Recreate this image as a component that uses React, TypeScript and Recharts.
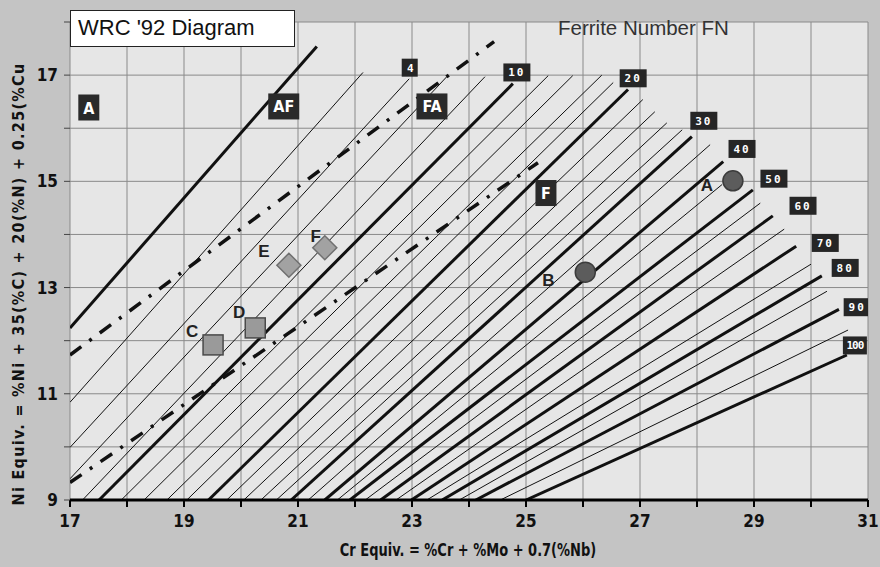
import { ComposedChart, Line, Scatter, XAxis, YAxis, CartesianGrid } from "recharts"

// iso-ferrite lines (start = bottom/left end, end = top/right end)
const fnValues = [0, 2, 4, 6, 8, 10, 12, 14, 16, 18, 20, 22, 24, 26, 28, 30, 35, 40, 45, 50, 55, 60, 65, 70, 75, 80, 85, 90, 95, 100]
const fnStartX = [17, 17, 17, 17, 17.22, 17.51, 17.9, 18.3, 18.7, 19.05, 19.43, 19.75, 20.05, 20.35, 20.62, 20.88, 21.18, 21.47, 21.69, 21.91, 22.18, 22.45, 22.72, 22.99, 23.26, 23.53, 23.83, 24.12, 24.55, 25.0]
const fnStartY = [12.24, 10.84, 9.99, 9.4, 9, 9, 9, 9, 9, 9, 9, 9, 9, 9, 9, 9, 9, 9, 9, 9, 9, 9, 9, 9, 9, 9, 9, 9, 9, 9]
const fnEndX = [21.33, 22.14, 22.95, 23.61, 24.28, 24.77, 25.39, 25.82, 26.33, 26.53, 26.79, 27.05, 27.26, 27.47, 27.74, 27.91, 28.23, 28.46, 28.44, 28.98, 29.11, 29.33, 29.53, 29.74, 30.0, 30.19, 30.28, 30.49, 30.65, 30.63]
const fnEndY = [17.54, 17.05, 16.93, 16.97, 16.97, 16.84, 16.99, 16.99, 17.0, 16.86, 16.73, 16.54, 16.31, 16.1, 15.97, 15.84, 15.69, 15.37, 14.94, 14.84, 14.59, 14.35, 14.1, 13.78, 13.44, 13.22, 12.93, 12.59, 12.2, 11.73]

// phase boundaries (dash-dot)
const afFaX = [17, 24.44]
const afFaY = [11.73, 17.63]
const faFX = [17, 25.21]
const faFY = [9.33, 15.35]

// labels on FN lines
const fnLabelText = ["4", "10", "20", "30", "40", "50", "60", "70", "80", "90", "100"]
const fnLabelX = [22.96, 24.84, 26.88, 28.12, 28.79, 29.35, 29.86, 30.25, 30.6, 30.81, 30.77]
const fnLabelY = [17.14, 17.05, 16.94, 16.14, 15.61, 15.05, 14.54, 13.84, 13.37, 12.63, 11.91]

// phase region labels
const regionNames = ["A", "AF", "FA", "F"]
const regionX = [17.33, 20.75, 23.35, 25.35]
const regionY = [16.39, 16.41, 16.41, 14.78]

// measured points
const pointNames = ["A", "B", "C", "D", "E", "F"]
const pointX = [28.63, 26.04, 19.51, 20.25, 20.84, 21.47]
const pointY = [15.01, 13.29, 11.92, 12.24, 13.42, 13.75]
const pointKind = ["circle", "circle", "square", "square", "diamond", "diamond"]

const xTicks = [17, 18, 19, 20, 21, 22, 23, 24, 25, 26, 27, 28, 29, 30, 31]
const yTicks = [9, 10, 11, 12, 13, 14, 15, 16, 17, 18]

const fnLines = fnValues.map((fn, i) => ({
  fn,
  data: [
    { x: fnStartX[i], y: fnStartY[i] },
    { x: fnEndX[i], y: fnEndY[i] },
  ],
}))
const afFaData = afFaX.map((x, i) => ({ x, y: afFaY[i] }))
const faFData = faFX.map((x, i) => ({ x, y: faFY[i] }))
const fnLabelData = fnLabelText.map((t, i) => ({ x: fnLabelX[i], y: fnLabelY[i], t }))
const regionData = regionNames.map((t, i) => ({ x: regionX[i], y: regionY[i], t }))
const pointData = pointNames.map((t, i) => ({ x: pointX[i], y: pointY[i], t, kind: pointKind[i] }))

const narrow = "'Liberation Sans Narrow', 'DejaVu Sans Condensed', 'Liberation Sans', sans-serif"
const labelOffset: Record<string, [number, number]> = {
  A: [-26, 4],
  B: [-37, 8],
  C: [-21, -14],
  D: [-16, -16],
  E: [-25, -14],
  F: [-9, -12],
}

function FnTag(props: any) {
  const { cx, cy, payload } = props
  const w = payload.t.length === 1 ? 16 : payload.t.length === 2 ? 27 : 24
  return (
    <g>
      <rect x={cx - w / 2} y={cy - 9} width={w} height={18} fill="#262626" />
      <text
        x={cx}
        y={cy + 4}
        textAnchor="middle"
        fill="#fff"
        fontSize={11}
        fontWeight="bold"
        fontFamily="'DejaVu Sans Mono', monospace"
        letterSpacing={payload.t.length === 2 ? 2 : -1}
      >
        {payload.t}
      </text>
    </g>
  )
}

function RegionTag(props: any) {
  const { cx, cy, payload } = props
  const w = payload.t.length === 1 ? 21 : 31
  return (
    <g>
      <rect x={cx - w / 2} y={cy - 13} width={w} height={26} fill="#2a2a2a" />
      <text x={cx} y={cy + 6} textAnchor="middle" fill="#fff" fontSize={16} fontWeight="bold" fontFamily={narrow}>
        {payload.t}
      </text>
    </g>
  )
}

function PointMark(props: any) {
  const { cx, cy, payload } = props
  const [dx, dy] = labelOffset[payload.t]
  let mark
  if (payload.kind === "circle") {
    mark = <circle cx={cx} cy={cy} r={10} fill="#5c5c5c" stroke="#3c3c3c" strokeWidth={1.5} />
  } else if (payload.kind === "square") {
    mark = <rect x={cx - 10} y={cy - 10} width={20} height={20} fill="#9a9a9a" stroke="#4a4a4a" strokeWidth={1.5} />
  } else {
    mark = (
      <polygon
        points={`${cx},${cy - 12} ${cx + 12},${cy} ${cx},${cy + 12} ${cx - 12},${cy}`}
        fill="#a2a2a2"
        stroke="#707070"
        strokeWidth={1.5}
      />
    )
  }
  return (
    <g>
      {mark}
      <text
        x={cx + dx}
        y={cy + dy + 6}
        textAnchor="middle"
        fill="#222"
        fontSize={17}
        fontWeight="bold"
        fontFamily="'Liberation Sans', Arial, sans-serif"
      >
        {payload.t}
      </text>
    </g>
  )
}

const tickStyle = { fontSize: 17, fontWeight: "bold", fill: "#111", fontFamily: narrow }

export default function App() {
  return (
    <div style={{ position: "absolute", left: 0, top: 0, width: 880, height: 567, background: "#c4c4c4" }}>
      <ComposedChart width={880} height={567} margin={{ top: 22, right: 12, left: 0, bottom: 0 }}>
        <CartesianGrid fill="#e6e6e6" stroke="#8a8a8a" strokeWidth={1} />
        <XAxis
          type="number"
          dataKey="x"
          domain={[17, 31]}
          ticks={xTicks}
          interval={0}
          tickFormatter={(v: number) => (v % 2 === 1 ? String(v) : "")}
          height={67}
          tickSize={7}
          tickMargin={8}
          axisLine={{ stroke: "#000", strokeWidth: 3 }}
          tickLine={{ stroke: "#000", strokeWidth: 2 }}
          tick={tickStyle}
          allowDataOverflow
        />
        <YAxis
          type="number"
          dataKey="y"
          domain={[9, 18]}
          ticks={yTicks}
          interval={0}
          tickFormatter={(v: number) => (v % 2 === 1 ? String(v) : "")}
          width={70}
          tickSize={6}
          tickMargin={6}
          axisLine={false}
          tickLine={{ stroke: "#444", strokeWidth: 1 }}
          tick={tickStyle}
          allowDataOverflow
        />
        {fnLines.map((l) => (
          <Line
            key={"fn" + l.fn}
            data={l.data}
            dataKey="y"
            type="linear"
            stroke="#111"
            strokeWidth={l.fn % 10 === 0 ? 3 : 1}
            dot={false}
            activeDot={false}
            isAnimationActive={false}
          />
        ))}
        <Line
          data={afFaData}
          dataKey="y"
          type="linear"
          stroke="#111"
          strokeWidth={3.5}
          strokeDasharray="14 10 3 10"
          dot={false}
          activeDot={false}
          isAnimationActive={false}
        />
        <Line
          data={faFData}
          dataKey="y"
          type="linear"
          stroke="#111"
          strokeWidth={3.5}
          strokeDasharray="14 10 3 10"
          dot={false}
          activeDot={false}
          isAnimationActive={false}
        />
        <Scatter data={fnLabelData} shape={FnTag} isAnimationActive={false} />
        <Scatter data={regionData} shape={RegionTag} isAnimationActive={false} />
        <Scatter data={pointData} shape={PointMark} isAnimationActive={false} />
      </ComposedChart>
      <div
        style={{
          position: "absolute",
          left: 70,
          top: 10,
          width: 225,
          height: 37,
          background: "#fff",
          border: "1px solid #222",
          fontFamily: "'Liberation Sans', Arial, sans-serif",
          fontSize: 22,
          lineHeight: "34px",
          paddingLeft: 7,
          boxSizing: "border-box",
          color: "#111",
        }}
      >
        WRC '92 Diagram
      </div>
      <div
        style={{
          position: "absolute",
          left: 558,
          top: 16,
          fontFamily: "'Liberation Sans', Arial, sans-serif",
          fontSize: 20.5,
          color: "#333",
          whiteSpace: "nowrap",
        }}
      >
        Ferrite Number FN
      </div>
      <div
        style={{
          position: "absolute",
          left: 18,
          top: 284,
          transform: "translate(-50%, -50%) rotate(-90deg)",
          fontFamily: narrow,
          fontWeight: "bold",
          fontSize: 16,
          letterSpacing: 1.3,
          color: "#111",
          whiteSpace: "nowrap",
        }}
      >
        Ni Equiv. = %Ni + 35(%C) + 20(%N) + 0.25(%Cu
      </div>
      <div
        style={{
          position: "absolute",
          left: 468,
          top: 550,
          transform: "translate(-50%, -50%) scaleX(0.85)",
          fontFamily: narrow,
          fontWeight: "bold",
          fontSize: 17,
          color: "#111",
          whiteSpace: "nowrap",
        }}
      >
        Cr Equiv. = %Cr + %Mo + 0.7(%Nb)
      </div>
    </div>
  )
}
